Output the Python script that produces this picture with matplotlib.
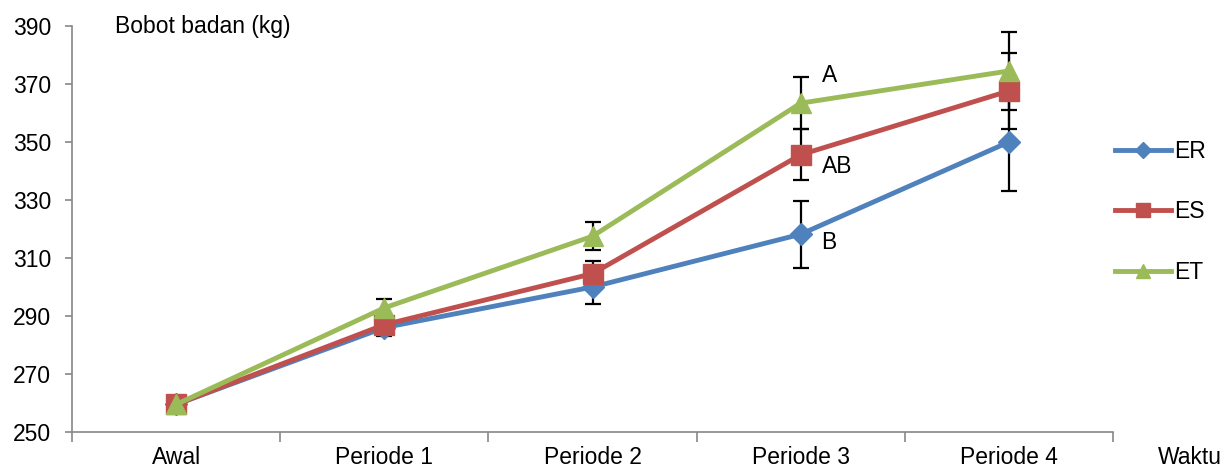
import matplotlib.pyplot as plt

plt.rcParams['font.family'] = ['Liberation Sans', 'DejaVu Sans']

categories = ['Awal', 'Periode 1', 'Periode 2', 'Periode 3', 'Periode 4']
series = ['ER', 'ES', 'ET']

er_values = [259.5, 286.0, 300.0, 318.2, 350.0]
es_values = [259.5, 287.0, 304.6, 345.6, 367.6]
et_values = [259.5, 292.8, 317.5, 363.4, 374.5]

er_err = [0, 3.0, 6.0, 11.6, 17.0]
es_err = [0, 3.0, 4.3, 8.8, 13.1]
et_err = [0, 3.0, 4.8, 9.0, 13.4]

# letters shown next to Periode 3
letters = {'ER': 'B', 'ES': 'AB', 'ET': 'A'}

colors = {'ER': '#4F81BD', 'ES': '#C0504D', 'ET': '#9BBB59'}
markers = {'ER': 'D', 'ES': 's', 'ET': '^'}
msizes = {'ER': 11, 'ES': 14, 'ET': 15}

FS = 16.5


def main() -> None:
    fig = plt.figure(figsize=(12.32, 4.70), dpi=100)
    ax = fig.add_axes([72 / 1232, 1 - 432 / 470, (1113 - 72) / 1232, (432 - 26) / 470])

    x = [i + 0.5 for i in range(len(categories))]
    data = {'ER': (er_values, er_err), 'ES': (es_values, es_err), 'ET': (et_values, et_err)}

    handles = []
    for name in series:
        vals, err = data[name]
        ax.errorbar(x[1:], vals[1:], yerr=err[1:], fmt='none', ecolor='black',
                    elinewidth=1.6, capsize=6, capthick=1.6, zorder=2)
        line, = ax.plot(x, vals, color=colors[name], lw=3.5, marker=markers[name],
                        markersize=msizes[name], label=name, zorder=3)
        handles.append(line)

    # significance letters at Periode 3
    offsets = {'ER': -3.0, 'ES': -4.2, 'ET': 9.6}
    for name in series:
        vals, _ = data[name]
        ax.text(x[3] + 0.1, vals[3] + offsets[name], letters[name], fontsize=FS,
                va='center', ha='left')

    ax.set_xlim(0, 5)
    ax.set_ylim(250, 390)
    ax.set_yticks(range(250, 391, 20))
    ax.set_xticks(range(0, 6))
    ax.set_xticklabels([])
    ax.set_xticks(x, minor=True)
    ax.set_xticklabels(categories, minor=True)
    ax.tick_params(axis='x', which='minor', length=0, pad=10, labelsize=FS)
    ax.tick_params(axis='x', which='major', length=7, color='#888888', width=1.2)
    ax.tick_params(axis='y', length=5, color='#888888', width=1.2, labelsize=FS, pad=10)

    for side in ['top', 'right']:
        ax.spines[side].set_visible(False)
    for side in ['left', 'bottom']:
        ax.spines[side].set_color('#888888')
        ax.spines[side].set_linewidth(1.2)

    fig.text(115 / 1232, 1 - 26 / 470, 'Bobot badan (kg)', fontsize=FS, va='center', ha='left')
    fig.text(1158 / 1232, 1 - 457 / 470, 'Waktu', fontsize=FS, va='center', ha='left')

    fig.legend(handles=handles, loc='center left', bbox_to_anchor=(1094 / 1232, 1 - 212 / 470),
               frameon=False, fontsize=FS, labelspacing=1.65, handlelength=2.45,
               handletextpad=0.15, markerscale=0.7)

    plt.savefig('out.png', dpi=100)


if __name__ == '__main__':
    main()
